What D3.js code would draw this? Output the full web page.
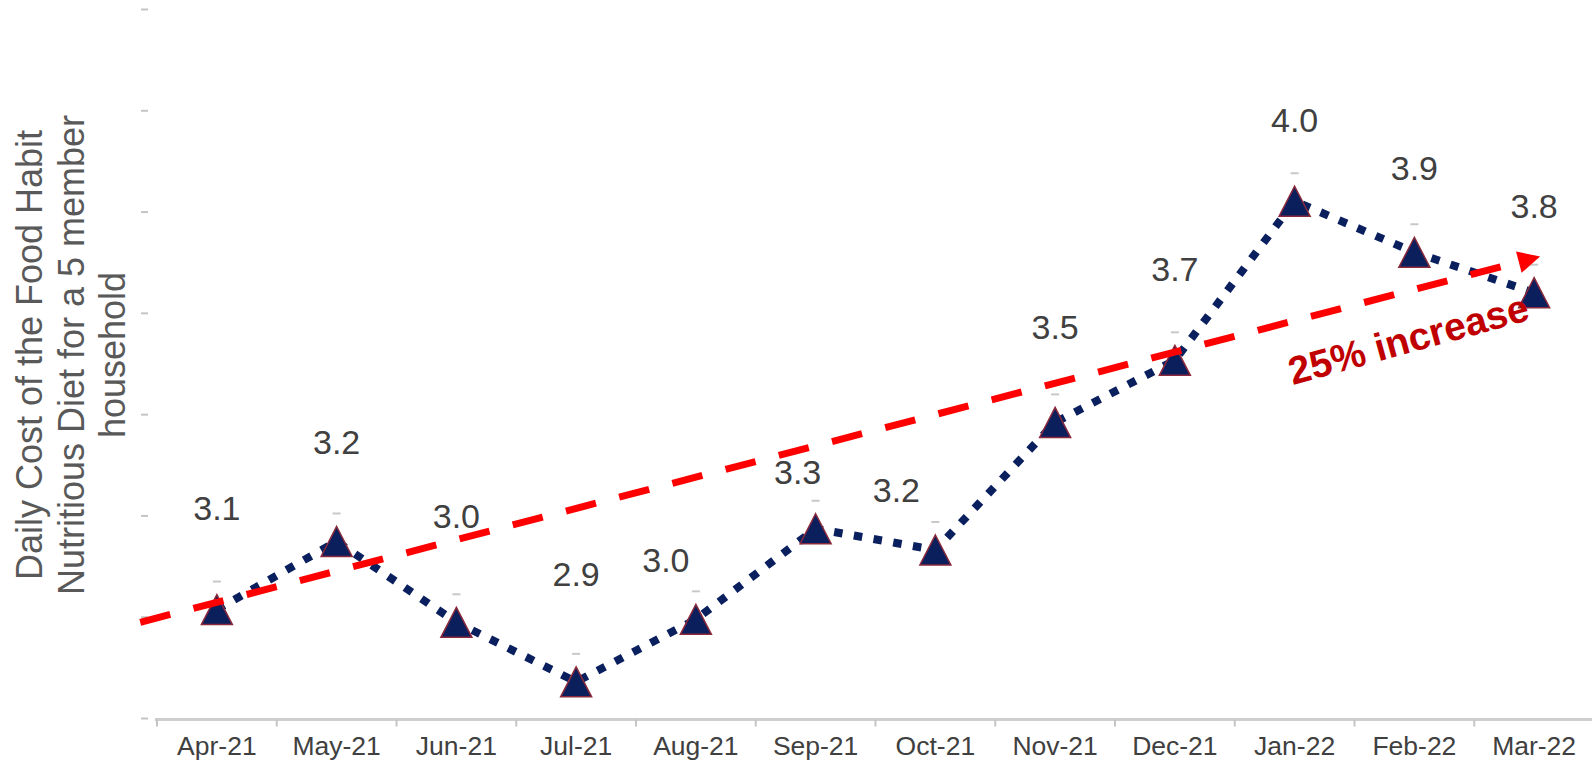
<!DOCTYPE html>
<html>
<head>
<meta charset="utf-8">
<script src="https://cdn.jsdelivr.net/npm/d3@7"></script>
<style>
  html, body { margin: 0; padding: 0; background: #ffffff; }
  svg { display: block; font-family: "Liberation Sans", Arial, sans-serif; }
</style>
</head>
<body>
<script>
// ---------------- DATA ----------------
const months = ["Apr-21", "May-21", "Jun-21", "Jul-21", "Aug-21", "Sep-21",
                "Oct-21", "Nov-21", "Dec-21", "Jan-22", "Feb-22", "Mar-22"];
const costs = [3.07, 3.23, 3.04, 2.90, 3.047, 3.26, 3.21, 3.51, 3.656, 4.03, 3.91, 3.815];
// trend arrow, in (category index, value) space
const trendIndex = [-0.64, 11.05];
const trendValues = [3.04, 3.90];
const annotationText = "25% increase";
const annotationIndex = 9.98;
const annotationValue = 3.675;
const yTitleLines = ["Daily Cost of the Food Habit", "Nutritious Diet for a 5 member", "household"];
const yTickCount = 8;
const yDomain = [2.815, 4.482];

// ---------------- LAYOUT / STYLE ----------------
const W = 1592, H = 761;
const plot = { left: 157, right: 1594, top: 9, bottom: 718 };
const labelDx = [0, 0, 0, 0, -30, -18, -39, 0, 0, 0, 0, 0];
const labelRise = [90, 87, 94, 96, 47, 45, 48, 83, 79, 69, 72, 75];

const svg = d3.select("body").append("svg")
  .attr("width", W).attr("height", H);
svg.append("rect").attr("width", W).attr("height", H).attr("fill", "#ffffff");

const x = d3.scaleBand().domain(months).range([plot.left, plot.right]).padding(0);
const cx = m => x(m) + x.bandwidth() / 2;
const y = d3.scaleLinear().domain(yDomain).range([plot.bottom, plot.top]);
const xi = d3.scaleLinear().domain([0, months.length - 1])
  .range([cx(months[0]), cx(months[months.length - 1])]);

// ---- y axis ticks (no labels, no line)
const yTicks = d3.range(yTickCount).map(i => yDomain[0] + i * (yDomain[1] - yDomain[0]) / (yTickCount - 1));
const yAxis = svg.append("g").attr("transform", `translate(148,0)`)
  .call(d3.axisLeft(y).tickValues(yTicks).tickFormat("").tickSize(7).tickSizeOuter(0));
yAxis.select(".domain").remove();
yAxis.selectAll(".tick line").attr("stroke", "#c4c4c4").attr("stroke-width", 2);

// ---- x axis
const axisY = 719.5;
svg.append("line")
  .attr("x1", plot.left - 2).attr("x2", W)
  .attr("y1", axisY).attr("y2", axisY)
  .attr("stroke", "#cfcfcf").attr("stroke-width", 3);
const boundaries = months.map(m => x(m)).concat([x.range()[1]]);
svg.append("g").selectAll("line").data(boundaries).join("line")
  .attr("x1", d => d).attr("x2", d => d)
  .attr("y1", axisY).attr("y2", axisY + 7)
  .attr("stroke", "#c4c4c4").attr("stroke-width", 2);
svg.append("g").selectAll("text").data(months).join("text")
  .attr("x", d => cx(d)).attr("y", 755)
  .attr("text-anchor", "middle")
  .attr("font-size", 26.5)
  .attr("fill", "#404040")
  .text(d => d);

// ---- y title
const titleG = svg.append("g").attr("transform", "translate(0,355) rotate(-90)");
titleG.selectAll("text").data(yTitleLines).join("text")
  .attr("x", 0)
  .attr("y", (d, i) => 42 + i * 41.5)
  .attr("text-anchor", "middle")
  .attr("font-size", 36)
  .attr("fill", "#595959")
  .text(d => d);

// ---- series
const pts = months.map((m, i) => ({ m, v: costs[i], i }));
svg.append("path")
  .datum(pts)
  .attr("d", d3.line().x(d => cx(d.m)).y(d => y(d.v)))
  .attr("fill", "none")
  .attr("stroke", "#0a1f5e")
  .attr("stroke-width", 8)
  .attr("stroke-dasharray", "8.5 11.5");

// small grey dashes above points
svg.append("g").selectAll("line").data(pts).join("line")
  .attr("x1", d => cx(d.m) - 4).attr("x2", d => cx(d.m) + 4)
  .attr("y1", d => y(d.v) - 28).attr("y2", d => y(d.v) - 28)
  .attr("stroke", "#c8c8c8").attr("stroke-width", 2);

// triangle markers
svg.append("g").selectAll("path").data(pts).join("path")
  .attr("transform", d => `translate(${cx(d.m)},${y(d.v)})`)
  .attr("d", "M0,-15L15.5,15L-15.5,15Z")
  .attr("fill", "#0b1f5c")
  .attr("stroke", "#8a2a3c")
  .attr("stroke-width", 1.5);

// data labels
svg.append("g").selectAll("text").data(pts).join("text")
  .attr("x", d => cx(d.m) + labelDx[d.i])
  .attr("y", d => y(d.v) - labelRise[d.i])
  .attr("text-anchor", "middle")
  .attr("font-size", 34)
  .attr("fill", "#404040")
  .text(d => d.v.toFixed(1));

// ---- trend arrow
const p0 = [xi(trendIndex[0]), y(trendValues[0])];
const p1 = [xi(trendIndex[1]), y(trendValues[1])];
const dx = p1[0] - p0[0], dy = p1[1] - p0[1];
const len = Math.hypot(dx, dy);
const ux = dx / len, uy = dy / len;
const headLen = 22, headHalf = 11;
const base = [p1[0] - ux * headLen, p1[1] - uy * headLen];
svg.append("line")
  .attr("x1", p0[0]).attr("y1", p0[1])
  .attr("x2", base[0] + ux * 2).attr("y2", base[1] + uy * 2)
  .attr("stroke", "#ff0000")
  .attr("stroke-width", 7)
  .attr("stroke-dasharray", "31 24");
svg.append("path")
  .attr("d", `M${p1[0]},${p1[1]}L${base[0] - uy * headHalf},${base[1] + ux * headHalf}L${base[0] + uy * headHalf},${base[1] - ux * headHalf}Z`)
  .attr("fill", "#ff0000");

// annotation
const angle = Math.atan2(dy, dx) * 180 / Math.PI;
svg.append("text")
  .attr("transform", `translate(${xi(annotationIndex)},${y(annotationValue)}) rotate(${angle - 0.7})`)
  .attr("text-anchor", "middle")
  .attr("font-size", 39)
  .attr("font-weight", "bold")
  .attr("fill", "#c00000")
  .text(annotationText);
</script>
</body>
</html>
